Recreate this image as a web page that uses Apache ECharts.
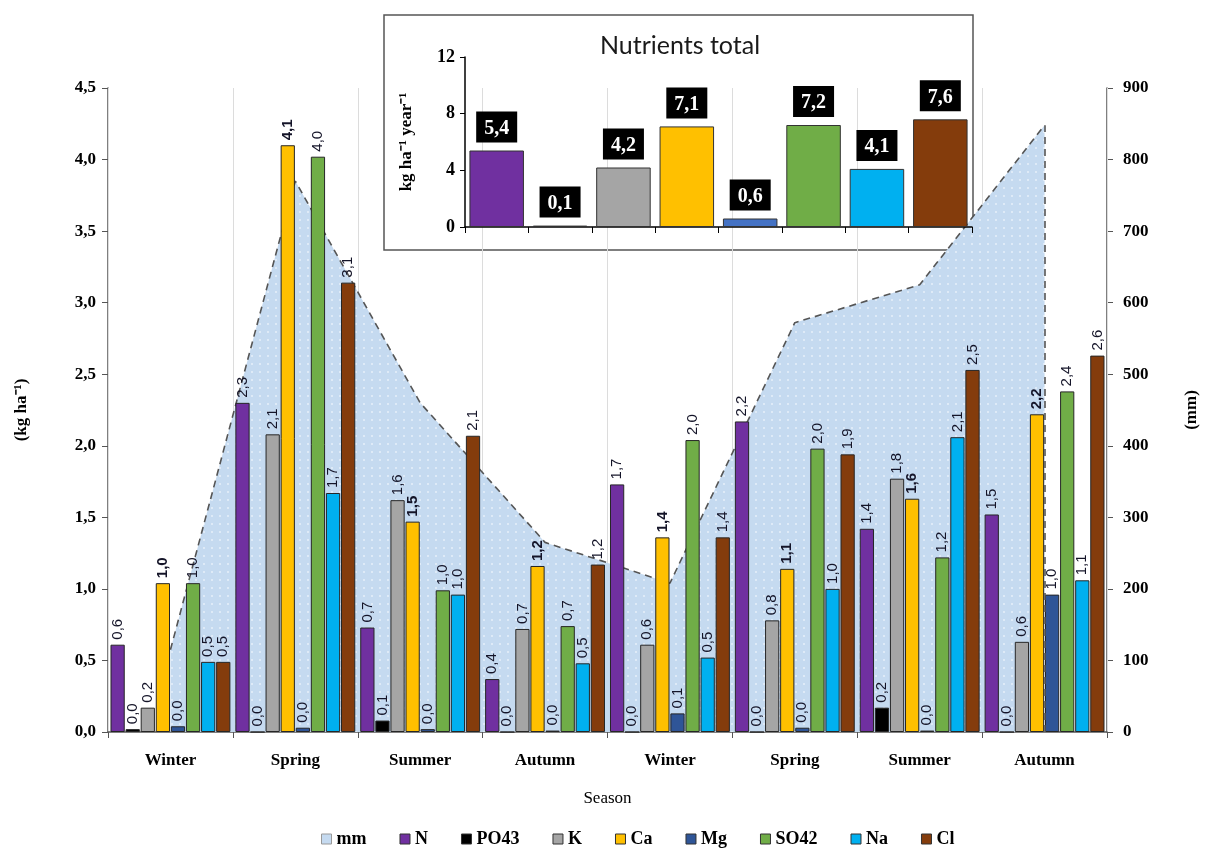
<!DOCTYPE html>
<html>
<head>
<meta charset="utf-8">
<script src="https://cdn.jsdelivr.net/npm/echarts@6/dist/echarts.min.js"></script>
<style>
html,body{margin:0;padding:0;background:#fff;}
#chart{width:1208px;height:850px;}
</style>
</head>
<body>
<div id="chart"></div>
<script>
const seasons = ['Winter','Spring','Summer','Autumn','Winter','Spring','Summer','Autumn'];
const mm   = [115, 770, 460, 265, 208, 572, 625, 848];
const N    = [0.61, 2.30, 0.73, 0.37, 1.73, 2.17, 1.42, 1.52];
const PO43 = [0.02, 0.00, 0.08, 0.00, 0.00, 0.00, 0.17, 0.00];
const K    = [0.17, 2.08, 1.62, 0.72, 0.61, 0.78, 1.77, 0.63];
const Ca   = [1.04, 4.10, 1.47, 1.16, 1.36, 1.14, 1.63, 2.22];
const Mg   = [0.04, 0.03, 0.02, 0.01, 0.13, 0.03, 0.01, 0.96];
const SO42 = [1.04, 4.02, 0.99, 0.74, 2.04, 1.98, 1.22, 2.38];
const Na   = [0.49, 1.67, 0.96, 0.48, 0.52, 1.00, 2.06, 1.06];
const Cl   = [0.49, 3.14, 2.07, 1.17, 1.36, 1.94, 2.53, 2.63];
const leftTicks = [0, 4.5, 0.5];
const rightTicks = [0, 900, 100];

const totalNames  = ['N','PO43','K','Ca','Mg','SO42','Na','Cl'];
const totalValues = [5.4, 0.1, 4.2, 7.1, 0.6, 7.2, 4.1, 7.6];

const colors = {N:'#7030a0', PO43:'#000000', K:'#a5a5a5', Ca:'#ffc000', Mg:'#2f5597', SO42:'#70ad47', Na:'#00b0f0', Cl:'#843c0c'};
const insetColors = ['#7030a0','#4472c4','#a5a5a5','#ffc000','#4472c4','#70ad47','#00b0f0','#843c0c'];

const serif = '"Liberation Serif","Times New Roman",serif';
const sans = '"Liberation Sans",Arial,sans-serif';
const fmt = v => Number(v).toFixed(1).replace('.', ',');

// dotted pattern for the rainfall area
const pc = document.createElement('canvas');
pc.width = 8; pc.height = 8;
const pctx = pc.getContext('2d');
pctx.fillStyle = '#c5daf0'; pctx.fillRect(0,0,8,8);
pctx.fillStyle = '#ffffff'; pctx.beginPath(); pctx.arc(4,4,0.8,0,Math.PI*2); pctx.fill();

const seriesDefs = [['N',N],['PO43',PO43],['K',K],['Ca',Ca],['Mg',Mg],['SO42',SO42],['Na',Na],['Cl',Cl]];
const barSeries = seriesDefs.map(([name, arr]) => ({
  name, type:'bar', xAxisIndex:0, yAxisIndex:0, z:3,
  data: arr,
  barGap:'6%', barCategoryGap:'4%',
  itemStyle:{color:colors[name], borderColor:'#262626', borderWidth:1},
  label:{show:true, position:'top', rotate:90, align:'left', verticalAlign:'middle', distance:5,
    formatter:p=>fmt(p.value), fontFamily:sans, fontSize:15, color:'#141428',
    fontWeight: name==='Ca' ? 'bold' : 'normal'}
}));

const chart = echarts.init(document.getElementById('chart'));
const option = {
  animation:false,
  backgroundColor:'#fff',
  graphic:[
    {type:'rect', z:0, shape:{x:384, y:15, width:589, height:235},
     style:{fill:'#fff', stroke:'#555', lineWidth:1.5}},
    {type:'text', z:10, x:680, y:46, style:{text:'Nutrients total', fontFamily:'Lato, "Open Sans", sans-serif', fontSize:25, fill:'#1a1a1a', textAlign:'center', textVerticalAlign:'middle'}}
  ],
  legend:{
    top:825, left:316, itemWidth:10, itemHeight:10, itemGap:33,
    textStyle:{fontFamily:serif, fontWeight:'bold', fontSize:18, color:'#000'},
    data:[
      {name:'mm', icon:'rect', itemStyle:{color:'#c5daf0', borderColor:'#999', borderWidth:1}},
      ...totalNames.map(n=>({name:n, icon:'rect', itemStyle:{color:colors[n], borderColor:'#333', borderWidth:1}}))
    ]
  },
  grid:[
    {left:108, right:93, top:88, bottom:118},
    {left:465, right:236, top:57, bottom:623}
  ],
  xAxis:[
    {type:'category', gridIndex:0, data:seasons, z:1,
     name:'Season', nameLocation:'middle', nameGap:58,
     nameTextStyle:{fontFamily:serif, fontSize:17, color:'#000'},
     axisLine:{lineStyle:{color:'#555', width:1.5}},
     axisTick:{show:true, length:6, lineStyle:{color:'#555'}},
     axisLabel:{fontFamily:serif, fontWeight:'bold', fontSize:17, color:'#000', margin:20},
     splitLine:{show:true, lineStyle:{color:'#dcdcdc', width:1}}},
    {type:'category', gridIndex:1, data:totalNames, z:6,
     axisLine:{lineStyle:{color:'#000', width:1.5}},
     axisTick:{show:true, length:6, lineStyle:{color:'#000'}},
     axisLabel:{show:false}, splitLine:{show:false}}
  ],
  yAxis:[
    {type:'value', gridIndex:0, min:leftTicks[0], max:leftTicks[1], interval:leftTicks[2],
     name:'(kg ha⁻¹)', nameLocation:'middle', nameGap:78, nameRotate:90,
     nameTextStyle:{fontFamily:serif, fontWeight:'bold', fontSize:17, color:'#000'},
     axisLine:{show:true, lineStyle:{color:'#555', width:1.5}},
     axisTick:{show:true, length:6, lineStyle:{color:'#555'}},
     axisLabel:{formatter:v=>fmt(v), fontFamily:serif, fontWeight:'bold', fontSize:17, color:'#000', margin:12},
     splitLine:{show:false}},
    {type:'value', gridIndex:0, position:'right', min:rightTicks[0], max:rightTicks[1], interval:rightTicks[2],
     name:'(mm)', nameLocation:'middle', nameGap:76, nameRotate:90,
     nameTextStyle:{fontFamily:serif, fontWeight:'bold', fontSize:17, color:'#000'},
     axisLine:{show:true, lineStyle:{color:'#555', width:1.5}},
     axisTick:{show:true, length:6, lineStyle:{color:'#555'}},
     axisLabel:{fontFamily:serif, fontWeight:'bold', fontSize:17, color:'#000', margin:16},
     splitLine:{show:false}},
    {type:'value', gridIndex:1, min:0, max:12, interval:4, z:6,
     name:'kg ha⁻¹ year⁻¹', nameLocation:'middle', nameGap:50, nameRotate:90,
     nameTextStyle:{fontFamily:serif, fontWeight:'bold', fontSize:17, color:'#000'},
     axisLine:{show:true, lineStyle:{color:'#000', width:1.5}},
     axisTick:{show:true, length:5, lineStyle:{color:'#000'}},
     axisLabel:{fontFamily:serif, fontWeight:'bold', fontSize:18, color:'#000', margin:10},
     splitLine:{show:false}}
  ],
  series:[
    {name:'mm', type:'line', xAxisIndex:0, yAxisIndex:1, z:2, data:mm,
     symbol:'none', smooth:false,
     lineStyle:{color:'#555', width:1.6, type:[7,5]},
     areaStyle:{color:{image:pc, repeat:'repeat'}, opacity:1},
     itemStyle:{color:'#c5daf0'},
     markLine:{silent:true, symbol:'none', label:{show:false},
       lineStyle:{color:'#555', width:1.6, type:[7,5]},
       data:[[{coord:[mm.length-1, 0]},{coord:[mm.length-1, mm[mm.length-1]]}]]}
    },
    ...barSeries,
    {name:'total', type:'bar', xAxisIndex:1, yAxisIndex:2, z:6,
     data: totalValues.map((v,i)=>({value:v, itemStyle:{color:insetColors[i]}})),
     barCategoryGap:'14%',
     itemStyle:{borderColor:'#333', borderWidth:1},
     label:{show:true, position:'top', distance:8, formatter:p=>fmt(p.value),
       backgroundColor:'#000', color:'#fff', fontFamily:serif, fontWeight:'bold', fontSize:20,
       padding:[7,8,4,8]}}
  ]
};
chart.setOption(option);
</script>
</body>
</html>
